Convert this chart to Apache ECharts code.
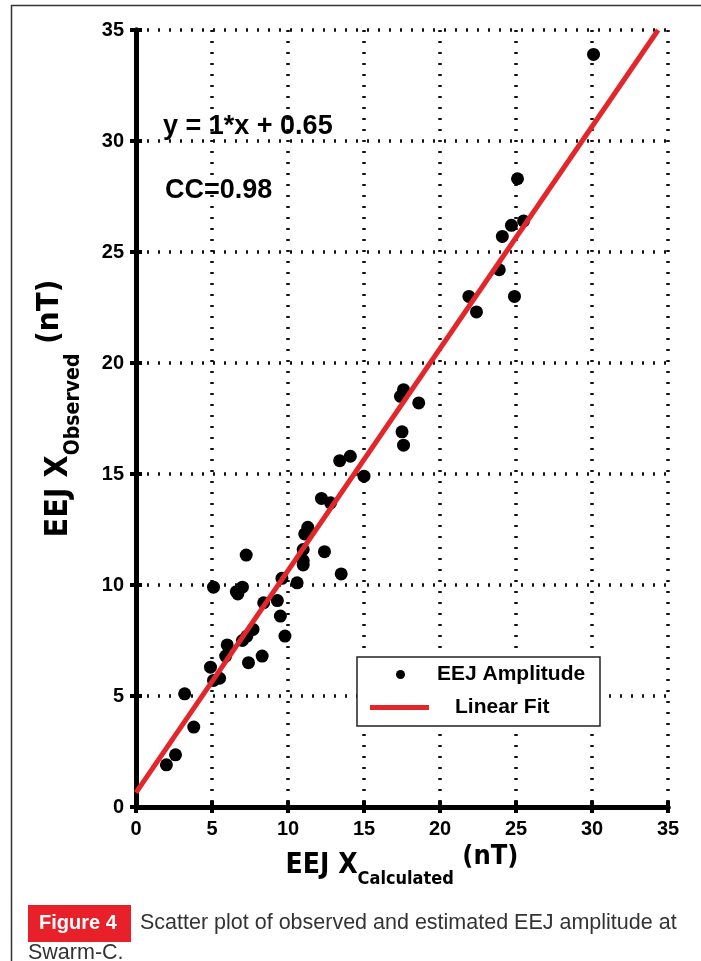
<!DOCTYPE html>
<html><head><meta charset="utf-8">
<script src="https://cdn.jsdelivr.net/npm/echarts@6/dist/echarts.min.js"></script>
<style>html,body{margin:0;padding:0;background:#fff}#c{width:701px;height:961px}</style>
</head><body><div id="c"></div>
<script>
// EEJ X calculated (nT) and observed (nT), Swarm-C
const calcX = [2.0, 2.6, 3.2, 3.8, 4.9, 5.1, 5.5, 5.1, 5.9, 6.0, 6.6, 6.7, 7.0, 7.25, 7.0, 7.3, 7.7, 7.4, 8.3, 8.4, 9.3, 9.5, 9.8, 9.6, 10.6, 11.0, 11.0, 11.0, 11.1, 11.3, 12.4, 12.2, 12.8, 13.5, 13.4, 14.1, 15.0, 17.4, 17.6, 18.6, 17.5, 17.6, 21.9, 22.4, 23.9, 24.1, 24.7, 25.5, 25.1, 24.9, 30.1];
const obsY  = [1.9, 2.35, 5.1, 3.6, 6.3, 5.7, 5.8, 9.9, 6.8, 7.3, 9.7, 9.6, 9.9, 11.35, 7.5, 7.7, 8.0, 6.5, 6.8, 9.2, 9.3, 8.6, 7.7, 10.3, 10.1, 10.9, 11.1, 11.6, 12.3, 12.6, 11.5, 13.9, 13.7, 10.5, 15.6, 15.8, 14.9, 18.5, 18.8, 18.2, 16.9, 16.3, 23.0, 22.3, 24.2, 25.7, 26.2, 26.4, 28.3, 23.0, 33.9];
const fitSlope = 1;
const fitIntercept = 0.65;
const fitXRange = [0, 34.35];
const axisMin = 0, axisMax = 35, axisStep = 5;
const seriesNames = ['EEJ Amplitude', 'Linear Fit'];
const fitLabel = 'y = 1*x + 0.65';
const ccLabel = 'CC=0.98';

const scatterData = calcX.map((x, i) => [x, obsY[i]]);
const fitData = fitXRange.map(x => [x, fitSlope * x + fitIntercept]);

const narrow = "'Liberation Sans Narrow', 'DejaVu Sans Condensed', 'Liberation Sans', sans-serif";
const sans = "'Liberation Sans', Arial, sans-serif";

const xTitleRich = {
  m: {fontSize: 28, fontWeight: 'bold', fontFamily: narrow, color: '#000', lineHeight: 44},
  s: {fontSize: 18, fontWeight: 'bold', fontFamily: narrow, color: '#000', lineHeight: 10, verticalAlign: 'bottom'},
  u: {fontSize: 27, fontWeight: 'bold', fontFamily: narrow, color: '#000', lineHeight: 36, verticalAlign: 'top'}
};
const yTitleRich = {
  m: {fontSize: 32, fontWeight: 'bold', fontFamily: narrow, color: '#000', lineHeight: 50},
  s: {fontSize: 21, fontWeight: 'bold', fontFamily: narrow, color: '#000', lineHeight: 12, verticalAlign: 'bottom'},
  u: {fontSize: 31, fontWeight: 'bold', fontFamily: narrow, color: '#000', lineHeight: 40, verticalAlign: 'top'}
};

const gridLine = {show: true, lineStyle: {color: '#111', width: 3.5, type: [2, 9]}};
const frameLine = {show: true, lineStyle: {color: '#000', width: 5}};
const tickIn = {show: true, inside: true, length: 6, lineStyle: {color: '#000', width: 4}};
const tickLabel = {fontSize: 20, fontWeight: 'bold', color: '#000', fontFamily: sans};

const chart = echarts.init(document.getElementById('c'), null, {renderer: 'canvas'});
chart.setOption({
  backgroundColor: '#fff',
  animation: false,
  grid: {left: 136, right: 33, top: 30, bottom: 154},
  xAxis: [{
    type: 'value', min: axisMin, max: axisMax, interval: axisStep, position: 'bottom',
    axisLine: frameLine, axisTick: tickIn, splitLine: gridLine,
    axisLabel: Object.assign({margin: 12}, tickLabel),
    name: '{m|EEJ X}{s|Calculated}{u| (nT)}', nameLocation: 'middle', nameGap: 33,
    nameTextStyle: {rich: xTitleRich}
  }, {
    type: 'value', min: axisMin, max: axisMax, interval: axisStep, position: 'top',
    axisLine: frameLine, axisTick: tickIn, splitLine: {show: false}, axisLabel: {show: false}
  }],
  yAxis: [{
    type: 'value', min: axisMin, max: axisMax, interval: axisStep, position: 'left',
    axisLine: frameLine, axisTick: tickIn, splitLine: gridLine,
    axisLabel: Object.assign({margin: 12}, tickLabel),
    name: '{m|EEJ X}{s|Observed}{u| (nT)}', nameLocation: 'middle', nameGap: 52, nameRotate: 90,
    nameTextStyle: {padding: [0, 0, 0, 20], rich: yTitleRich}
  }, {
    type: 'value', min: axisMin, max: axisMax, interval: axisStep, position: 'right',
    axisLine: frameLine, axisTick: tickIn, splitLine: {show: false}, axisLabel: {show: false}
  }],
  legend: [{
    data: [seriesNames[0]], left: 396, top: 664, padding: 0, icon: 'circle',
    itemWidth: 9, itemHeight: 9, z: 6,
    textStyle: {fontSize: 21, fontWeight: 'bold', color: '#000', fontFamily: sans, padding: [0, 0, 0, 27]}
  }, {
    data: [seriesNames[1]], left: 370, top: 697, padding: 0, icon: 'rect',
    itemWidth: 59, itemHeight: 5, z: 6,
    textStyle: {fontSize: 21, fontWeight: 'bold', color: '#000', fontFamily: sans, padding: [0, 0, 0, 21]}
  }],
  series: [{
    name: seriesNames[0], type: 'scatter', data: scatterData,
    symbol: 'circle', symbolSize: 13, itemStyle: {color: '#000', opacity: 1}, z: 2
  }, {
    name: seriesNames[1], type: 'line', data: fitData, symbol: 'none', showSymbol: false,
    lineStyle: {color: '#e3262a', width: 5}, itemStyle: {color: '#e3262a'}, z: 3
  }],
  graphic: [
    {type: 'line', shape: {x1: 11, y1: 5.5, x2: 701, y2: 5.5}, style: {stroke: '#333', lineWidth: 1.5}, silent: true},
    {type: 'line', shape: {x1: 11.5, y1: 5, x2: 11.5, y2: 961}, style: {stroke: '#333', lineWidth: 1.5}, silent: true},
    {type: 'rect', shape: {x: 357, y: 657, width: 243, height: 69}, style: {fill: '#fff', stroke: '#222', lineWidth: 1.5}, z: 5, silent: true},
    {type: 'text', left: 163, top: 113, z: 5, style: {text: fitLabel, fontSize: 27, fontWeight: 'bold', fill: '#000', fontFamily: sans}},
    {type: 'text', left: 165, top: 177, z: 5, style: {text: ccLabel, fontSize: 27, fontWeight: 'bold', fill: '#000', fontFamily: sans}},
    {type: 'rect', shape: {x: 28, y: 905, width: 103, height: 37}, style: {fill: '#e8202a'}, silent: true},
    {type: 'text', left: 39, top: 913, style: {text: 'Figure 4', fontSize: 20, fontWeight: 'bold', fill: '#fff', fontFamily: sans}},
    {type: 'text', left: 140, top: 912, style: {text: 'Scatter plot of observed and estimated EEJ amplitude at', fontSize: 21.5, fill: '#333', fontFamily: sans}},
    {type: 'text', left: 28, top: 942, style: {text: 'Swarm-C.', fontSize: 21.5, fill: '#333', fontFamily: sans}}
  ]
});
</script>
</body></html>
